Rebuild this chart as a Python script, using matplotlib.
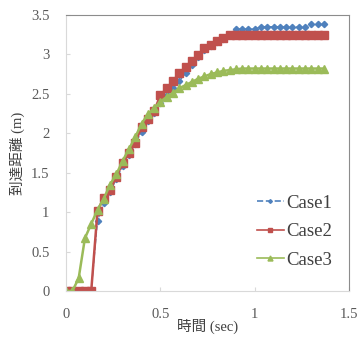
import numpy as np
import matplotlib
matplotlib.use("Agg")
import matplotlib.pyplot as plt

# 時間 (sec): 1/30 s 刻み
t = np.arange(42) / 30.0

case1 = [0, 0, 0, 0, 0, 0.89, 1.12, 1.25, 1.42, 1.58, 1.72, 1.86, 2.02, 2.15,
         2.26, 2.38, 2.48, 2.57, 2.66, 2.76, 2.86, 2.96, 3.05, 3.11, 3.16,
         3.20, 3.24, 3.32, 3.32, 3.32, 3.32, 3.35, 3.35, 3.35, 3.35, 3.35,
         3.35, 3.35, 3.35, 3.38, 3.38, 3.38]
case2 = [0, 0, 0, 0, 0, 1.02, 1.18, 1.28, 1.45, 1.62, 1.75, 1.88, 2.08, 2.18,
         2.28, 2.48, 2.57, 2.66, 2.76, 2.84, 2.92, 2.99, 3.08, 3.12, 3.17,
         3.21, 3.25] + [3.25] * 15
case3 = [0, 0, 0.16, 0.67, 0.85, 1.03, 1.17, 1.35, 1.48, 1.65, 1.80, 1.95,
         2.12, 2.24, 2.32, 2.40, 2.46, 2.51, 2.57, 2.61, 2.65, 2.69, 2.72,
         2.75, 2.77, 2.79, 2.80, 2.81] + [2.82] * 14

x_ticks = [0, 0.5, 1, 1.5]
x_labels = ['0', '0.5', '1', '1.5']
y_ticks = [0, 0.5, 1, 1.5, 2, 2.5, 3, 3.5]
y_labels = ['0', '0.5', '1', '1.5', '2', '2.5', '3', '3.5']

FAM = ['Liberation Serif', 'Noto Sans CJK JP']
plt.rcParams['font.family'] = FAM

fig = plt.figure(figsize=(3.61, 3.38), dpi=100)
ax = fig.add_axes([0.183, 0.139, 0.784, 0.817])

ax.plot(t, case1, color='#4F81BD', ls='--', lw=0.9, marker='D', ms=3.2,
        mec='#4F81BD', label='Case1')
ax.plot(t, case2, color='#C0504D', ls='-', lw=1.8, marker='s', ms=6,
        mec='#C0504D', label='Case2')
ax.plot(t, case3, color='#9BBB59', ls='-', lw=1.8, marker='^', ms=6,
        mec='#9BBB59', label='Case3')

ax.set_xlim(0, 1.5)
ax.set_ylim(0, 3.5)
ax.set_xticks(x_ticks)
ax.set_xticklabels(x_labels)
ax.set_yticks(y_ticks)
ax.set_yticklabels(y_labels)
ax.tick_params(direction='in', length=3, color='#d9d9d9', labelsize=10.5,
               labelcolor='#595959')
ax.tick_params(axis='x', pad=12)
ax.tick_params(axis='y', pad=12)

for side in ['left', 'bottom']:
    ax.spines[side].set_color('#d9d9d9')
for side in ['top', 'right']:
    ax.spines[side].set_color('#8c8c8c')
for s in ax.spines.values():
    s.set_linewidth(0.8)

ax.set_xlabel('時間 (sec)', fontsize=10.5, color='#404040', labelpad=-1)
ax.set_ylabel('到達距離 (m)', fontsize=10.5, color='#404040', labelpad=4)

leg = ax.legend(loc='lower right', bbox_to_anchor=(1.0, 0.02), frameon=False,
                fontsize=13.5, handlelength=1.4, handletextpad=0.15,
                labelspacing=0.6, markerscale=0.6, labelcolor='#404040')
for h in leg.get_lines():
    h.set_linewidth(1.2)

fig.savefig('out.png', dpi=100)
